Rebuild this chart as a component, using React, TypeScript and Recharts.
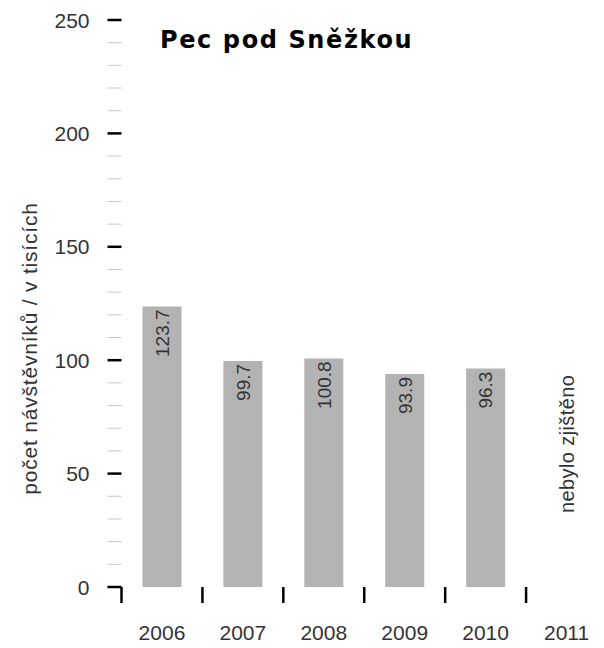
import { BarChart, Bar, XAxis, YAxis, LabelList, Label } from "recharts";

const years = ["2006", "2007", "2008", "2009", "2010", "2011"];
const visitors: (number | null)[] = [123.7, 99.7, 100.8, 93.9, 96.3, null];
const notes = ["", "", "", "", "", "nebylo zjištěno"];
const yTicks = [0, 10, 20, 30, 40, 50, 60, 70, 80, 90, 100, 110, 120, 130, 140, 150, 160, 170, 180, 190, 200, 210, 220, 230, 240, 250];

const FONT = "'Liberation Sans', Arial, sans-serif";
const TEXT = "#333";

const data = years.map((y, i) => ({ year: y, value: visitors[i], note: notes[i] }));

function YTick(props: any) {
  const { x, y, payload } = props;
  const v = payload.value;
  const major = v % 50 === 0;
  if (!major) {
    return <line x1={x - 14} x2={x} y1={y} y2={y} stroke="#c8c8c8" strokeWidth={1} />;
  }
  return (
    <g>
      <line x1={x - 14} x2={x} y1={y} y2={y} stroke="#000" strokeWidth={2.5} />
      <text x={x - 32} y={y} dy="0.36em" textAnchor="end" fontFamily={FONT} fontSize={21} fill={TEXT}>
        {v}
      </text>
    </g>
  );
}

function XTick(props: any) {
  const { x, y, payload } = props;
  const half = payload.offset || 40.5;
  const note = notes[payload.index];
  return (
    <g>
      <line x1={x - half} x2={x - half} y1={y} y2={y + 16} stroke="#000" strokeWidth={2.5} />
      <text x={x} y={y + 53} textAnchor="middle" fontFamily={FONT} fontSize={21} fill={TEXT}>
        {payload.value}
      </text>
      {note ? (
        <text
          x={x}
          y={y - 74}
          transform={`rotate(-90 ${x} ${y - 74})`}
          dy="0.36em"
          fontFamily={FONT}
          fontSize={20}
          letterSpacing={0.4}
          fill={TEXT}
        >
          {note}
        </text>
      ) : null}
    </g>
  );
}

function BarValue(props: any) {
  const { x, y, width, value } = props;
  if (value == null) return null;
  const cx = x + width / 2;
  const ty = y + 3;
  return (
    <text
      x={cx}
      y={ty}
      transform={`rotate(-90 ${cx} ${ty})`}
      textAnchor="end"
      dy="0.36em"
      fontFamily={FONT}
      fontSize={19}
      fill={TEXT}
    >
      {value.toFixed(1)}
    </text>
  );
}

function AxisTitle(props: any) {
  const vb = props.viewBox || {};
  const cx = vb.x + 29;
  const cy = vb.y + vb.height / 2 + 45;
  return (
    <text
      x={cx}
      y={cy}
      transform={`rotate(-90 ${cx} ${cy})`}
      textAnchor="middle"
      dy="0.36em"
      fontFamily={FONT}
      fontSize={21}
      letterSpacing={0.8}
      fill={TEXT}
    >
      počet návštěvníků / v tisících
    </text>
  );
}

export default function App() {
  return (
    <div style={{ position: "absolute", left: 0, top: 0, width: 604, height: 648, overflow: "hidden", background: "#fff" }}>
      <div
        style={{
          position: "absolute",
          left: 160,
          top: 26,
          fontFamily: "'DejaVu Sans', sans-serif",
          fontWeight: 700,
          fontSize: 24,
          letterSpacing: 1.6,
          color: "#000",
          zIndex: 1,
          whiteSpace: "nowrap",
        }}
      >
        Pec pod Sněžkou
      </div>
      <BarChart width={610} height={648} data={data} margin={{ top: 20, right: 3, bottom: 0, left: 0 }} barCategoryGap={0}>
        <XAxis
          dataKey="year"
          height={61}
          axisLine={false}
          tickLine={false}
          tickSize={0}
          tickMargin={0}
          interval={0}
          tick={<XTick />}
        />
        <YAxis
          width={121.5}
          domain={[0, 250]}
          ticks={yTicks}
          interval={0}
          axisLine={false}
          tickLine={false}
          tickSize={0}
          tickMargin={0}
          tick={<YTick />}
        >
          <Label content={<AxisTitle />} />
        </YAxis>
        <Bar dataKey="value" fill="#b3b3b3" barSize={39} isAnimationActive={false}>
          <LabelList dataKey="value" content={<BarValue />} />
        </Bar>
      </BarChart>
    </div>
  );
}
